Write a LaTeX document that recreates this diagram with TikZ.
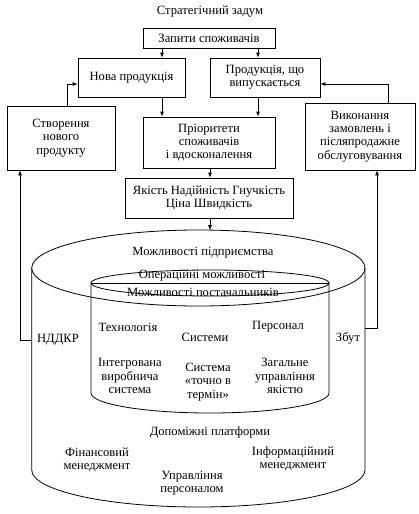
\documentclass[tikz,border=0pt]{standalone}
\usepackage{fontspec}
\setmainfont{Liberation Serif}
\usetikzlibrary{arrows.meta}
\begin{document}
\begin{tikzpicture}[x=1pt,y=-1pt,
  font=\fontsize{12.6}{13.2}\selectfont,
  line width=0.8pt,
  box/.style={draw,inner sep=0pt,align=center},
  lbl/.style={inner sep=0pt,align=center},
  arr/.style={-{Latex[length=5pt,width=4pt]}}]
\useasboundingbox (0,0) rectangle (419,514);
% title
\node[lbl] (title) at (210,12) {Стратегічний задум};
% boxes
\node[box,minimum width=132pt,minimum height=20pt] (zap) at (209,38) {Запити споживачів};
\node[box,minimum width=107pt,minimum height=39pt] (nova) at (131.5,77.5) {Нова продукція};
\node[box,minimum width=110pt,minimum height=39pt] (prod) at (265,77.5) {Продукція, що\\випускається};
\node[box,minimum width=108pt,minimum height=64pt] (stv) at (61,138) {Створення\\нового\\продукту};
\node[box,minimum width=110pt,minimum height=67pt] (vyk) at (360,136.5) {Виконання\\замовлень і\\післяпродажне\\обслуговування};
\node[box,minimum width=132pt,minimum height=51pt] (pri) at (209,142.5) {Пріоритети\\споживачів\\і вдосконалення};
\node[box,minimum width=168pt,minimum height=40pt] (yak) at (209,198) {Якість Надійність Гнучкість\\Ціна Швидкість};
% helper coordinates
\coordinate (xa) at (162,0);
\coordinate (xb) at (258,0);
\coordinate (xc) at (210,0);
\coordinate (xs) at (67,0);
\coordinate (xv) at (388,0);
\coordinate (yl) at (0,84);
\coordinate (xn) at (20,0);
\coordinate (xz) at (377,0);
\coordinate (ctop) at (210,230.2);
\coordinate (ndl) at (31.7,340);
\coordinate (zbr) at (365,328);
% connectors
\draw[arr] (zap.south -| xa) -- (nova.north -| xa);
\draw[arr] (zap.south -| xb) -- (prod.north -| xb);
\draw[arr] (nova.south -| xa) -- (pri.north -| xa);
\draw[arr] (prod.south -| xb) -- (pri.north -| xb);
\draw[arr] (pri.south -| xc) -- (yak.north -| xc);
\draw[arr] (yak.south -| xc) -- (ctop);
\draw[arr] (stv.north -| xs) |- (nova.west |- yl);
\draw[arr] (vyk.north -| xv) |- (prod.east |- yl);
\draw[arr] (ndl) -| (xn |- stv.south);
\draw[arr] (zbr) -| (xz |- vyk.south);
% outer cylinder
\draw (198.35,268) ellipse [x radius=166.65, y radius=38];
\draw (31.7,268) -- (31.7,470) arc[start angle=180, end angle=0, x radius=166.65, y radius=37] -- (365,268);
% inner cylinder
\draw (210,283) ellipse [x radius=119, y radius=13];
\draw (91,283) -- (329,283);
\draw (91,283) -- (91,393) arc[start angle=180, end angle=0, x radius=119, y radius=20] -- (329,283);
% cylinder texts
\node[lbl] (mp) at (203,253) {Можливості підприємства};
\node[lbl] (om) at (202,276) {Операційні можливості};
\node[lbl] (mpost) at (203,292) {Можливості постачальників};
\node[lbl] (tech) at (128,327) {Технологія};
\node[lbl] (sys) at (205,337) {Системи};
\node[lbl] (pers) at (278,327) {Персонал};
\node[lbl] (ivs) at (130,376) {Інтегрована\\виробнича\\система};
\node[lbl] (jit) at (208,382) {Система\\«точно в\\термін»};
\node[lbl] (tqm) at (285,376) {Загальне\\управління\\якістю};
\node[lbl] (dp) at (210,432) {Допоміжні платформи};
\node[lbl] (fm) at (97,460) {Фінансовий\\менеджмент};
\node[lbl] (up) at (192,483) {Управління\\персоналом};
\node[lbl] (im) at (293,459) {Інформаційний\\менеджмент};
\node[lbl] (nd) at (58,340) {НДДКР};
\node[lbl] (zb) at (348,338) {Збут};
\end{tikzpicture}
\end{document}
